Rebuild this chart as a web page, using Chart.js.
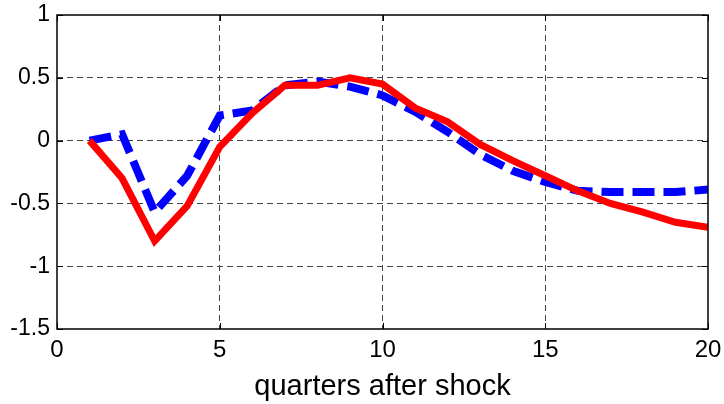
<!DOCTYPE html>
<html>
<head>
<meta charset="utf-8">
<script src="https://cdn.jsdelivr.net/npm/chart.js@4.4.0/dist/chart.umd.min.js"></script>
<style>
  html, body { margin: 0; padding: 0; background: #fff; }
  #wrap { width: 724px; height: 404px; }
</style>
</head>
<body>
<div id="wrap"><canvas id="chart" width="724" height="404"></canvas></div>
<script>
// quarters after the shock
const quarters = [1, 2, 3, 4, 5, 6, 7, 8, 9, 10, 11, 12, 13, 14, 15, 16, 17, 18, 19, 20];
// solid red line
const redValues = [0, -0.30, -0.80, -0.52, -0.05, 0.22, 0.44, 0.44, 0.50, 0.45,
  0.26, 0.15, -0.03, -0.16, -0.28, -0.40, -0.50, -0.57, -0.65, -0.69];
// dashed blue line
const blueValues = [0, 0.05, -0.57, -0.28, 0.20, 0.24, 0.44, 0.47, 0.43, 0.36,
  0.23, 0.07, -0.11, -0.24, -0.33, -0.40, -0.41, -0.41, -0.41, -0.39];
const xTicks = [0, 5, 10, 15, 20];
const yTicks = [-1.5, -1, -0.5, 0, 0.5, 1];

const FONT = "'Liberation Sans', Arial, sans-serif";

function toPoints(values) {
  return quarters.map((q, i) => ({ x: q, y: values[i] }));
}

// box round the plot plus short inward ticks, like matlab
const boxPlugin = {
  id: "box",
  afterDraw(chart) {
    const ctx = chart.ctx;
    const a = chart.chartArea;
    const xs = chart.scales.x;
    const ys = chart.scales.y;
    ctx.save();
    ctx.strokeStyle = "#000";
    ctx.lineWidth = 1.5;
    ctx.strokeRect(a.left, a.top, a.right - a.left, a.bottom - a.top);
    ctx.lineWidth = 1;
    ctx.beginPath();
    xTicks.forEach((t) => {
      const px = Math.round(xs.getPixelForValue(t)) + 0.5;
      ctx.moveTo(px, a.bottom);
      ctx.lineTo(px, a.bottom - 6);
      ctx.moveTo(px, a.top);
      ctx.lineTo(px, a.top + 6);
    });
    yTicks.forEach((t) => {
      const py = Math.round(ys.getPixelForValue(t)) + 0.5;
      ctx.moveTo(a.left, py);
      ctx.lineTo(a.left + 6, py);
      ctx.moveTo(a.right, py);
      ctx.lineTo(a.right - 6, py);
    });
    ctx.stroke();
    ctx.restore();
  },
};

const config = {
  type: "line",
  data: {
    datasets: [
      {
        data: toPoints(redValues),
        borderColor: "#ff0000",
        borderWidth: 7,
        pointRadius: 0,
        tension: 0,
        borderJoinStyle: "miter",
      },
      {
        data: toPoints(blueValues),
        borderColor: "#0000ff",
        borderWidth: 8,
        borderDash: [22, 9],
        borderCapStyle: "butt",
        pointRadius: 0,
        tension: 0,
      },
    ],
  },
  options: {
    responsive: false,
    animation: false,
    layout: { padding: { left: 0, right: 16, top: 15, bottom: 0 } },
    plugins: {
      legend: { display: false },
      tooltip: { enabled: false },
    },
    scales: {
      x: {
        type: "linear",
        min: 0,
        max: 20,
        afterBuildTicks: (scale) => {
          scale.ticks = xTicks.map((v) => ({ value: v }));
        },
        afterFit: (scale) => {
          scale.height = 75;
          scale.paddingLeft = 0;
          scale.paddingRight = 0;
        },
        grid: {
          color: (c) => (c.tick && (c.tick.value === 0 || c.tick.value === 20) ? "rgba(0,0,0,0)" : "#444"),
          lineWidth: 1,
          drawTicks: false,
        },
        border: { display: false, dash: [6, 4] },
        ticks: {
          color: "#000",
          font: { family: FONT, size: 24 },
          padding: 7,
          maxRotation: 0,
        },
        title: {
          display: true,
          text: "quarters after shock",
          color: "#000",
          font: { family: FONT, size: 29 },
          padding: { top: 2, bottom: 0 },
        },
      },
      y: {
        type: "linear",
        min: -1.5,
        max: 1,
        afterBuildTicks: (scale) => {
          scale.ticks = yTicks.map((v) => ({ value: v }));
        },
        afterFit: (scale) => {
          scale.width = 57;
          scale.paddingTop = 0;
          scale.paddingBottom = 0;
        },
        grid: {
          color: (c) => (c.tick && (c.tick.value === 1 || c.tick.value === -1.5) ? "rgba(0,0,0,0)" : "#444"),
          lineWidth: 1,
          drawTicks: false,
        },
        border: { display: false, dash: [6, 4] },
        ticks: {
          color: "#000",
          font: { family: FONT, size: 23 },
          padding: 7,
          callback: (v) => String(v),
        },
      },
    },
  },
  plugins: [boxPlugin],
};

new Chart(document.getElementById("chart"), config);
</script>
</body>
</html>
